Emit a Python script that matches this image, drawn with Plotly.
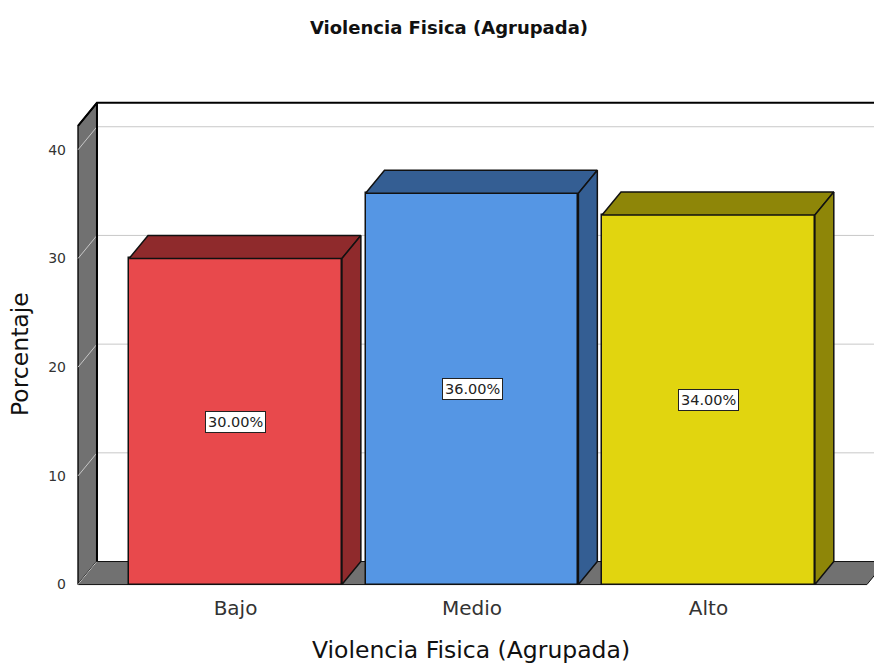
import plotly.graph_objects as go

# datos del gráfico
categorias = ["Bajo", "Medio", "Alto"]
porcentajes = [30.0, 36.0, 34.0]
etiquetas = ["30.00%", "36.00%", "34.00%"]
ticks_y = [0, 10, 20, 30, 40]

color_frente = ["#e8494c", "#5596e4", "#e1d50f"]
color_fondo = ["#8f2a2c", "#345e93", "#8e8608"]

# geometría pseudo-3D (unidades de datos)
ancho = 0.9
dx, dy = 0.08, 2.12
x_izq, x_der = -0.666, 2.67
alto_pared = 42.2
gris = "#717171"
rango_x = [-0.7, 2.7]
rango_y = [-0.5, 44.58]

fig = go.Figure()


def poligono(xs, ys, fill, line_w=1, eje="x", ejey="y"):
    fig.add_trace(go.Scatter(
        x=xs + [xs[0]], y=ys + [ys[0]], mode="lines", fill="toself",
        fillcolor=fill, line=dict(color="#111111", width=line_w),
        hoverinfo="skip", showlegend=False, xaxis=eje, yaxis=ejey,
    ))


# pared lateral izquierda y piso (capa de fondo)
poligono([x_izq, x_izq + dx, x_izq + dx, x_izq],
         [0, dy, alto_pared + dy, alto_pared], gris, 1.5)
poligono([x_izq, x_der, x_der + dx, x_izq + dx], [0, 0, dy, dy], gris, 1)

# líneas de cuadrícula (pared lateral + pared de fondo)
for t in ticks_y:
    fig.add_trace(go.Scatter(
        x=[x_izq, x_izq + dx, 3.0] if t > 0 else [x_izq, x_izq + dx],
        y=[t, t + dy, t + dy] if t > 0 else [t, t + dy],
        mode="lines", line=dict(color="#c8c8c8", width=1),
        hoverinfo="skip", showlegend=False,
    ))

# borde superior y esquina de la pared de fondo
fig.add_trace(go.Scatter(
    x=[x_izq, x_izq + dx, 3.0], y=[alto_pared, alto_pared + dy, alto_pared + dy],
    mode="lines", line=dict(color="black", width=2), hoverinfo="skip", showlegend=False,
))
fig.add_trace(go.Scatter(
    x=[x_izq + dx, x_izq + dx], y=[dy, alto_pared + dy],
    mode="lines", line=dict(color="black", width=2), hoverinfo="skip", showlegend=False,
))

# caras frontales (eje superpuesto para quedar encima del piso)
fig.add_trace(go.Bar(
    x=list(range(len(categorias))), y=porcentajes, width=ancho,
    marker=dict(color=color_frente, line=dict(color="#111111", width=1.5)),
    hoverinfo="skip", showlegend=False, xaxis="x2", yaxis="y2",
))

# caras superior y lateral de cada barra
for i, v in enumerate(porcentajes):
    x0, x1 = i - ancho / 2, i + ancho / 2
    poligono([x0, x1, x1 + dx, x0 + dx], [v, v, v + dy, v + dy], color_fondo[i], 1.5, "x2", "y2")
    poligono([x1, x1 + dx, x1 + dx, x1], [0, dy, v + dy, v], color_fondo[i], 1.5, "x2", "y2")

# etiquetas de valor
for i, (v, txt) in enumerate(zip(porcentajes, etiquetas)):
    fig.add_annotation(
        x=i, y=v / 2, text=txt, showarrow=False,
        font=dict(family="DejaVu Sans", size=14.5, color="#222222"),
        bgcolor="white", bordercolor="#222222", borderwidth=1, borderpad=2,
    )

fig.add_annotation(
    x=(471 - 70) / 804, y=(590 - 650) / 490, xref="paper", yref="paper",
    text="Violencia Fisica (Agrupada)", showarrow=False,
    font=dict(family="DejaVu Sans", size=23.5, color="#111111"), yanchor="middle",
)
fig.add_annotation(
    x=(20 - 70) / 804, y=(590 - 354) / 490, xref="paper", yref="paper", textangle=-90,
    text="Porcentaje", showarrow=False,
    font=dict(family="DejaVu Sans", size=23.5, color="#111111"),
    xanchor="center", yanchor="middle",
)

comun = dict(showgrid=False, zeroline=False, showline=False, ticks="", automargin=False)

fig.update_layout(
    width=874, height=663,
    margin=dict(l=70, r=0, t=100, b=73, autoexpand=False),
    plot_bgcolor="white", paper_bgcolor="white",
    font=dict(family="DejaVu Sans", color="#333333"),
    title=dict(text="<b>Violencia Fisica (Agrupada)</b>", x=449 / 874, y=1 - 28 / 663,
               xanchor="center", yanchor="middle", automargin=False,
               font=dict(family="DejaVu Sans", size=18, color="#111111")),
    xaxis=dict(range=rango_x, tickvals=list(range(len(categorias))), ticktext=categorias,
               tickfont=dict(size=20, color="#333333"), ticklabelstandoff=4, **comun),
    yaxis=dict(range=rango_y, tickvals=ticks_y,
               tickfont=dict(size=14, color="#333333"), ticklabelstandoff=3, **comun),
    xaxis2=dict(range=rango_x, overlaying="x", showticklabels=False, **comun),
    yaxis2=dict(range=rango_y, overlaying="y", showticklabels=False, **comun),
    bargap=0,
)

fig.write_html("out.html", config={"displayModeBar": False},
               post_script="document.body.style.margin='0';")
